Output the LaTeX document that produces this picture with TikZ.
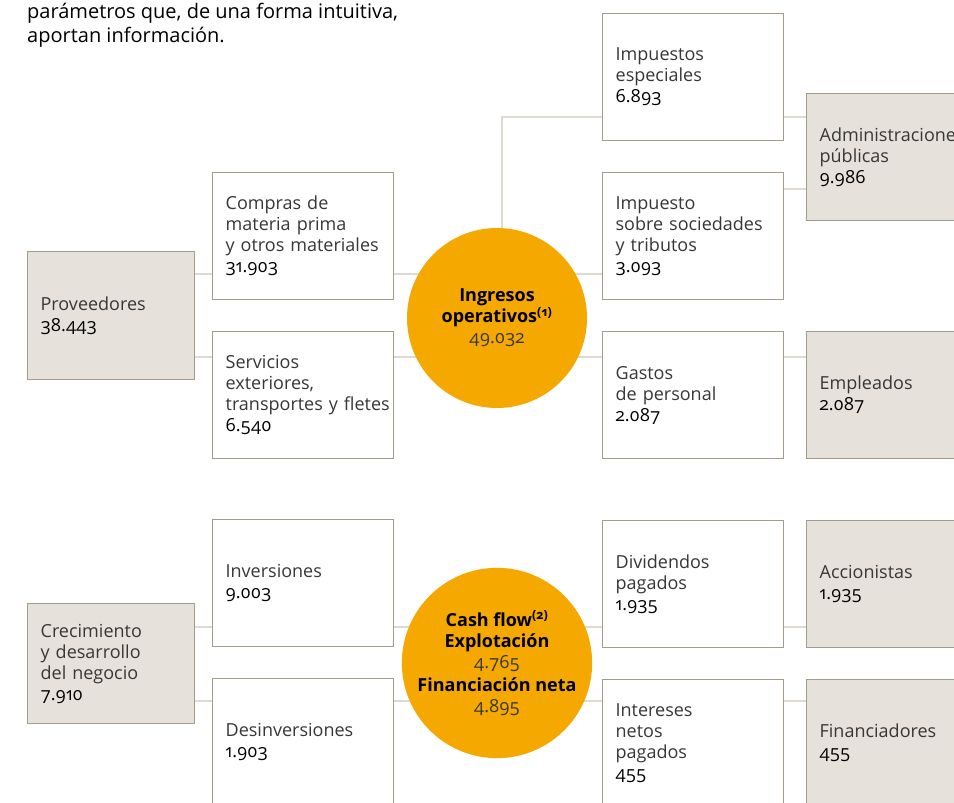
\documentclass[tikz,border=0pt]{standalone}
\usepackage{fontspec}
\setmainfont{Open Sans}[Numbers=OldStyle]
\definecolor{boxfill}{RGB}{230,226,219}
\definecolor{boxline}{RGB}{163,156,138}
\definecolor{linkgray}{RGB}{222,218,208}
\definecolor{flow}{RGB}{245,168,0}
\definecolor{ink}{RGB}{55,55,55}
\pgfdeclarelayer{bg}
\pgfsetlayers{bg,main}

\begin{document}
\begin{tikzpicture}[x=1pt, y=-1pt,
     font=\fontsize{18}{21}\selectfont,
     text=ink,
     item/.style={draw=boxline, line width=1.3pt, fill=white, anchor=north west,
        minimum width=181pt, minimum height=127pt, text width=155pt,
        inner xsep=13pt, inner ysep=0pt, align=left},
     party/.style={item, fill=boxfill, minimum width=167pt, text width=141pt},
     total/.style={circle, fill=flow, minimum size=180pt, inner sep=0pt, align=center},
     link/.style={linkgray, line width=2pt}]
\clip (0,0) rectangle (954,803);
\node[anchor=north west, inner sep=0pt, align=left, text=black,
      font=\fontsize{20}{24}\selectfont] (intro) at (27,3)
      {parámetros que, de una forma intuitiva,\\aportan información.};

\node[party, minimum height=128pt] (prov) at (27,251) {Proveedores\\\textcolor{black}{38.443}};
\node[item] (comp) at (212,172) {Compras de\\materia prima\\y otros materiales\\\textcolor{black}{31.903}};
\node[item] (serv) at (212,331) {Servicios\\exteriores,\\\mbox{transportes y fletes}\\\textcolor{black}{6.540}};
\node[item] (ie) at (602,13) {Impuestos\\especiales\\\textcolor{black}{6.893}};
\node[item] (soc) at (602,172) {Impuesto\\sobre sociedades\\y tributos\\\textcolor{black}{3.093}};
\node[item] (gast) at (602,331) {Gastos\\de personal\\\textcolor{black}{2.087}};
\node[party] (adm) at (806,93) {Administraciones\\públicas\\\textcolor{black}{9.986}};
\node[party] (emp) at (806,331) {Empleados\\\textcolor{black}{2.087}};
\node[total] (inc) at (497,318) {\textbf{\textcolor{black}{Ingresos}}\\
   \textbf{\textcolor{black}{operativos\textsuperscript{(1)}}}\\49.032};

\node[party, minimum height=120pt] (crec) at (27,603) {Crecimiento\\y desarrollo\\del negocio\\\textcolor{black}{7.910}};
\node[item] (inv) at (212,519) {Inversiones\\\textcolor{black}{9.003}};
\node[item] (desi) at (212,678) {Desinversiones\\\textcolor{black}{1.903}};
\node[item] (div) at (602,520) {Dividendos\\pagados\\\textcolor{black}{1.935}};
\node[item] (int) at (602,679) {Intereses\\netos\\pagados\\\textcolor{black}{455}};
\node[party] (acc) at (806,520) {Accionistas\\\textcolor{black}{1.935}};
\node[party] (fin) at (806,679) {Financiadores\\\textcolor{black}{455}};
\node[total] (cash) at (497,663) {\textbf{\textcolor{black}{Cash flow\textsuperscript{(2)}}}\\
   \textbf{\textcolor{black}{Explotación}}\\4.765\\[2pt]
   \textbf{\textcolor{black}{Financiación neta}}\\4.895};

\coordinate (lvA) at (0,274);
\coordinate (lvB) at (0,357);
\coordinate (lvC) at (502,117);
\coordinate (lvD) at (0,189);
\coordinate (lvE) at (0,627);
\coordinate (lvF) at (0,701);
\begin{pgfonlayer}{bg}
\fill[white] (0,0) rectangle (954,803);
\foreach \a/\b/\lv in {prov/comp/lvA, prov/serv/lvB, comp/soc/lvA, serv/gast/lvB,
    ie/adm/lvC, soc/adm/lvD, gast/emp/lvB, crec/inv/lvE, crec/desi/lvF,
    inv/div/lvE, desi/int/lvF, div/acc/lvE, int/fin/lvF}
  \draw[link] (\a.east |- \lv) -- (\b.west |- \lv);
\draw[link] (inc.center -| lvC) -- (lvC) -- (ie.west |- lvC);
\end{pgfonlayer}
\end{tikzpicture}
\end{document}
